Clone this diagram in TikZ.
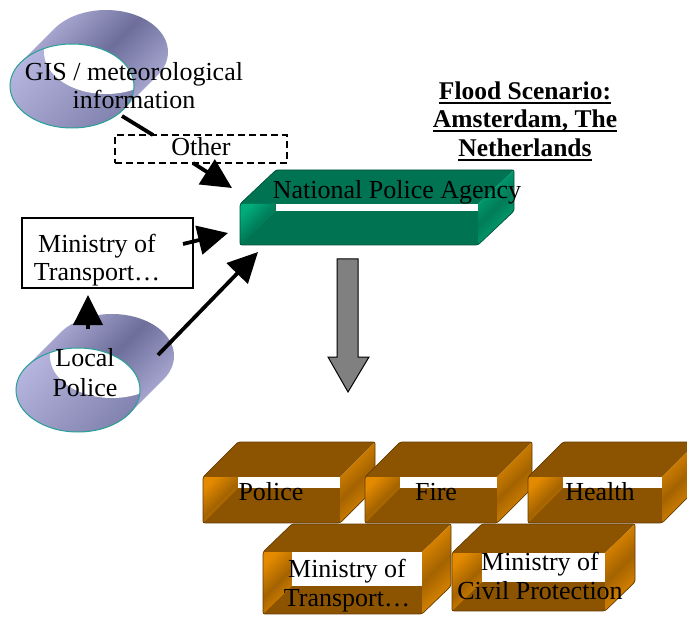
\documentclass[tikz,border=0pt]{standalone}
\usepackage{fontspec}
\setmainfont{Liberation Serif}
\usetikzlibrary{arrows.meta}
\definecolor{lavL}{RGB}{180,180,222}
\definecolor{lavD}{RGB}{110,110,155}
\definecolor{tealE}{RGB}{40,160,150}
\definecolor{gD}{RGB}{0,115,82}
\definecolor{gL}{RGB}{0,172,122}
\definecolor{oD}{RGB}{140,84,0}
\definecolor{oL}{RGB}{228,138,0}
\newcommand\myul[1]{\setbox0\hbox{#1}\rlap{\rule[-4.5pt]{\wd0}{1.8pt}}\box0}
% x0 y0 x1 y1 dx dy dark light
\newcommand\tubebox[8]{%
  \fill[#7] (#1,#2) -- ({#1+#5},{#2-#6}) -- ({#3+#5},{#2-#6}) -- (#3,#2) -- cycle;
  \shade[left color=#8, right color=#8, middle color=#8!72!black, shading angle=45]
    (#3,#2) -- ({#3+#5},{#2-#6}) -- ({#3+#5},{#4-#6}) -- (#3,#4) -- cycle;
  \fill[#7] (#1,#2) rectangle (#3,#4);
  \shade[left color=#8, right color=#8, middle color=#8!72!black, shading angle=45]
    (#1,#2) -- ({#1+#5},#2) -- ({#1+#5},{#4-#6}) -- (#1,#4) -- cycle;
  \fill[white] ({#1+#5},#2) rectangle (#3,{#4-#6});
  \draw[#7!70!black, line width=0.7pt, rounded corners=2pt]
    (#1,#4) -- (#1,#2) -- ({#1+#5},{#2-#6}) -- ({#3+#5},{#2-#6}) -- ({#3+#5},{#4-#6}) -- (#3,#4) -- cycle;
}
% cx cy name
\newcommand\tube[3]{%
  \shade[left color=lavL, right color=lavL, middle color=lavD, shading angle=45]
    plot[domain=34.1:214.1, samples=60] ({#1+62*cos(\x)},{#2+42*sin(\x)})
    -- plot[domain=214.1:394.1, samples=60] ({#1+34+62*cos(\x)},{#2-34+42*sin(\x)}) -- cycle;
  \shade[left color=lavL, right color=lavD!70!lavL, shading angle=45] (#1,#2) ellipse[x radius=62, y radius=42];
  \begin{scope}
    \clip (#1,#2) ellipse[x radius=62, y radius=42];
    \fill[white] ({#1+34},{#2-34}) ellipse[x radius=62, y radius=42];
  \end{scope}
  \draw[tealE, line width=1pt] (#1,#2) ellipse[x radius=62, y radius=42];
  \coordinate (#3) at (#1,#2);
}
\begin{document}
\begin{tikzpicture}[x=1pt,y=-1pt,
  lbl/.style={font=\fontsize{26}{29}\selectfont, align=center, inner sep=0pt},
  conn/.style={line width=3.8pt, -{Triangle[length=30pt,width=29pt]}},
  plainline/.style={line width=3.8pt}]
\useasboundingbox (0,0) rectangle (687,617);
\clip (0,0) rectangle (687,617);
\fill[white] (0,0) rectangle (687,617);

% tubes
\tube{72}{86}{gistube}
\tube{78}{390}{localtube}
\node[lbl, font=\fontsize{26}{28}\selectfont] (gis) at (134,86) {GIS / meteorological\\information};
\node[lbl, font=\fontsize{26}{30}\selectfont] (local) at (85,373) {Local\\Police};

% title
\node[lbl, font=\fontsize{25.5}{28.5}\selectfont\bfseries] (title) at (525,121)
  {\myul{Flood Scenario:}\\\myul{Amsterdam, The}\\\myul{Netherlands}};

% other (dashed)
\node[draw, dash pattern=on 7pt off 4pt, line width=1.2pt, minimum width=172, minimum height=28,
  inner sep=0pt, font=\fontsize{26}{28}\selectfont, text height=18pt, text depth=5pt] (other) at (201,149) {Other};

% ministry of transport (left)
\node[draw, line width=1.3pt, minimum width=171, minimum height=70, inner sep=0pt] (mtbox) at (107.5,253) {};
\node[lbl, font=\fontsize{26}{28}\selectfont] (mttext) at (97,260.5) {Ministry of\\Transport…};

% national police agency
\tubebox{240}{204}{478}{245}{36}{34}{gD}{gL}
\node[lbl] (npa) at (397,192) {National Police Agency};

% big gray arrow
\draw[fill=gray, line width=1pt] (337,259) -- (358,259) -- (358,357) -- (369,357) -- (348,392)
  -- (328,357) -- (337,357) -- cycle;

% orange boxes
\tubebox{263}{552}{422}{614}{29}{28}{oD}{oL}
\tubebox{452}{553}{605}{611}{30}{29}{oD}{oL}
\tubebox{203}{477}{340}{523}{35}{35}{oD}{oL}
\tubebox{365}{477}{497}{523}{35}{35}{oD}{oL}
\tubebox{528}{477}{662}{523}{35}{35}{oD}{oL}
\node[lbl] (police) at (271,492) {Police};
\node[lbl] (fire) at (436,492) {Fire};
\node[lbl] (health) at (600,492) {Health};
\node[lbl] (mt2) at (347,586) {Ministry of\\Transport…};
\node[lbl] (civil) at (540,576) {Ministry of\\Civil Protection};

% connectors
\coordinate (gisOut) at (122,116);
\coordinate (otherIn) at (153,135);
\coordinate (otherOut) at (193,163);
\coordinate (npaA) at (232,188);
\coordinate (mtOut) at (183,244);
\coordinate (npaB) at (228,233);
\coordinate (localUp) at (88,329);
\coordinate (mtIn) at (88,295);
\coordinate (localOut) at (158,355);
\coordinate (npaC) at (258,252);
\draw[plainline] (gisOut) -- (otherIn);
\draw[conn] (otherOut) -- (npaA);
\draw[conn] (mtOut) -- (npaB);
\draw[conn] (localUp) -- (mtIn);
\draw[conn] (localOut) -- (npaC);
\end{tikzpicture}
\end{document}
